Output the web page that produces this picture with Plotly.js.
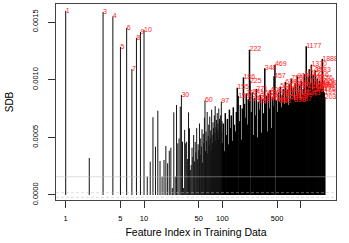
<!DOCTYPE html>
<html><head><meta charset="utf-8">
<script src="https://cdn.plot.ly/plotly-3.0.1.min.js"></script>
<style>html,body{margin:0;padding:0;background:#fff}#chart{width:349px;height:243px}</style>
</head><body><div id="chart"></div>
<script>
// Feature index (x) and SDB value (y)
const featureIndex = [
  1,2,3,4,5,6,7,8,9,10,
  11,12,13,14,15,16,17,18,19,20,21,22,23,24,25,26,27,28,29,30,
  31,32,33,34,35,36,37,38,39,40,41,42,43,44,45,46,47,48,49,50,
  51,52,53,54,55,56,57,58,59,60,61,62,63,64,65,66,67,68,69,70,
  71,72,73,74,75,76,77,78,79,80,81,82,83,84,85,86,87,88,89,90,
  91,92,93,94,95,96,97,98,99,
  100,103,106,109,112,116,119,123,126,130,134,138,142,146,151,155,159,165,170,175,
  180,186,191,196,202,208,214,222,225,234,241,248,256,263,271,279,288,296,305,314,
  324,333,348,353,364,375,386,397,409,421,434,447,457,469,488,503,518,533,549,565,
  582,599,617,636,654,674,694,715,736,758,781,804,828,852,878,904,931,959,987,1017,
  1047,1078,1110,1143,1177,1212,1248,1286,1324,1370,1404,1446,1489,1533,1579,1626,1674,1724,1776,1829,
  1888,1939,1997,2030
];
const sdbValue = [
  0.001596,0.000321,0.001587,0.001548,0.001284,0.001448,0.001093,0.001362,0.001414,0.001431,
  0.000159,0.000289,0.000674,0.000419,0.000731,0.000295,0.000159,0.000304,0.000425,0.000275,
  0.000384,0.000410,0.000060,0.000717,0.000159,0.000780,0.000448,0.000490,0.000766,0.000867,
  0.000462,0.000060,0.000564,0.000448,0.000462,0.000312,0.000717,0.000578,0.000217,0.000260,
  0.000410,0.000330,0.000520,0.000290,0.000460,0.000370,0.000580,0.000310,0.000440,0.000390,
  0.000620,0.000350,0.000490,0.000420,0.000570,0.000280,0.000530,0.000450,0.000670,0.000820,
  0.000380,0.000550,0.000470,0.000720,0.000360,0.000510,0.000610,0.000430,0.000680,0.000490,
  0.000560,0.000390,0.000740,0.000520,0.000450,0.000630,0.000580,0.000410,0.000690,0.000540,
  0.000770,0.000470,0.000590,0.000650,0.000430,0.000710,0.000560,0.000620,0.000480,0.000750,
  0.000530,0.000660,0.000580,0.000440,0.000690,0.000610,0.000810,0.000550,0.000640,
  0.00045,0.00062,0.00038,0.00071,0.00052,0.00066,0.00044,0.00074,0.00058,0.00069,
  0.00047,0.00076,0.00061,0.00055,0.00072,0.00093,0.00086,0.00064,0.00078,0.00048,
  0.00075,0.00102,0.00079,0.00067,0.00088,0.00061,0.00083,0.00126,0.00099,0.00072,
  0.00089,0.00052,0.00084,0.00069,0.00092,0.00050,0.00081,0.00074,0.00087,0.00054,
  0.00083,0.00071,0.00110,0.00079,0.00086,0.00055,0.00088,0.00075,0.00091,0.00058,
  0.00084,0.00077,0.00103,0.00113,0.00082,0.00072,0.00089,0.00081,0.00094,0.00076,
  0.00087,0.00092,0.00079,0.00098,0.00085,0.00091,0.00078,0.00096,0.00084,0.00101,
  0.00088,0.00093,0.00082,0.00097,0.00086,0.00103,0.00089,0.00095,0.00083,0.00099,
  0.00087,0.00092,0.00105,0.00088,0.00129,0.00094,0.00102,0.00109,0.00097,0.00113,
  0.00091,0.00104,0.00096,0.00108,0.00093,0.00101,0.00095,0.00099,0.00092,0.00097,
  0.00118,0.00094,0.00089,0.00085
];
const labelThreshold = 0.0008;
const xTickValues = [1,5,10,50,100,500,1000];
const xTickLabels = ['1','5','10','50','100','500',''];
const yTickValues = [0,0.0005,0.0010,0.0015];
const yTickLabels = ['0.0000','0.0005','0.0010','0.0015'];
const solidRefLine = [0.000158];
const dashedRefLines = [0.00002,-0.00002];

const sparseX = [], sparseY = [], denseX = [], denseY = [];
featureIndex.forEach((f,i)=>{
  if (f < 100) { sparseX.push(f,f,null); sparseY.push(0,sdbValue[i],null); }
  else { denseX.push(f,f,null); denseY.push(0,sdbValue[i],null); }
});
const labX = [], labY = [], labT = [];
featureIndex.forEach((f,i)=>{ if (sdbValue[i] > labelThreshold) { labX.push(f); labY.push(sdbValue[i]); labT.push(String(f)); } });

const refColor = 'rgba(190,190,190,0.5)';
const shapes = [];
solidRefLine.forEach(v=>shapes.push({type:'line',xref:'paper',x0:0,x1:1,yref:'y',y0:v,y1:v,layer:'above',line:{color:refColor,width:1}}));
dashedRefLines.forEach(v=>shapes.push({type:'line',xref:'paper',x0:0,x1:1,yref:'y',y0:v,y1:v,layer:'above',line:{color:refColor,width:1,dash:'3px,2px'}}));

const font = 'Liberation Sans, Arial, sans-serif';
const traces = [
  {type:'scatter',mode:'lines',x:sparseX,y:sparseY,line:{color:'#111',width:1},hoverinfo:'skip',showlegend:false},
  {type:'scatter',mode:'lines',x:denseX,y:denseY,line:{color:'#000',width:1.5},hoverinfo:'skip',showlegend:false},
  {type:'scatter',mode:'text',x:labX,y:labY,text:labT,textposition:'middle right',
   textfont:{family:font,size:7,color:'#ff1a1a'},showlegend:false,cliponaxis:true}
];
const layout = {
  width:349,height:243,
  margin:{l:56,r:13,t:4,b:43},
  paper_bgcolor:'#fff',plot_bgcolor:'#fff',
  font:{family:font,color:'#000'},
  showlegend:false,
  xaxis:{type:'log',range:[-0.1238,3.4507],tickvals:xTickValues,ticktext:xTickLabels,
    ticks:'outside',ticklen:7,tickcolor:'#333',tickfont:{size:7.5},showgrid:false,zeroline:false,
    showline:true,mirror:true,linecolor:'#444',linewidth:1,ticklabelstandoff:4,
    title:{text:'Feature Index in Training Data',font:{size:10.5},standoff:6}},
  yaxis:{range:[-0.0000434,0.0016561],tickvals:yTickValues,ticktext:yTickLabels,tickangle:-90,
    ticks:'outside',ticklen:7,tickcolor:'#333',tickfont:{size:7.5},showgrid:false,zeroline:false,
    showline:true,mirror:true,linecolor:'#444',linewidth:1,ticklabelstandoff:7,
    title:{text:'SDB',font:{size:10},standoff:15}},
  shapes:shapes
};
Plotly.newPlot('chart',traces,layout,{staticPlot:true,displayModeBar:false});
</script></body></html>
